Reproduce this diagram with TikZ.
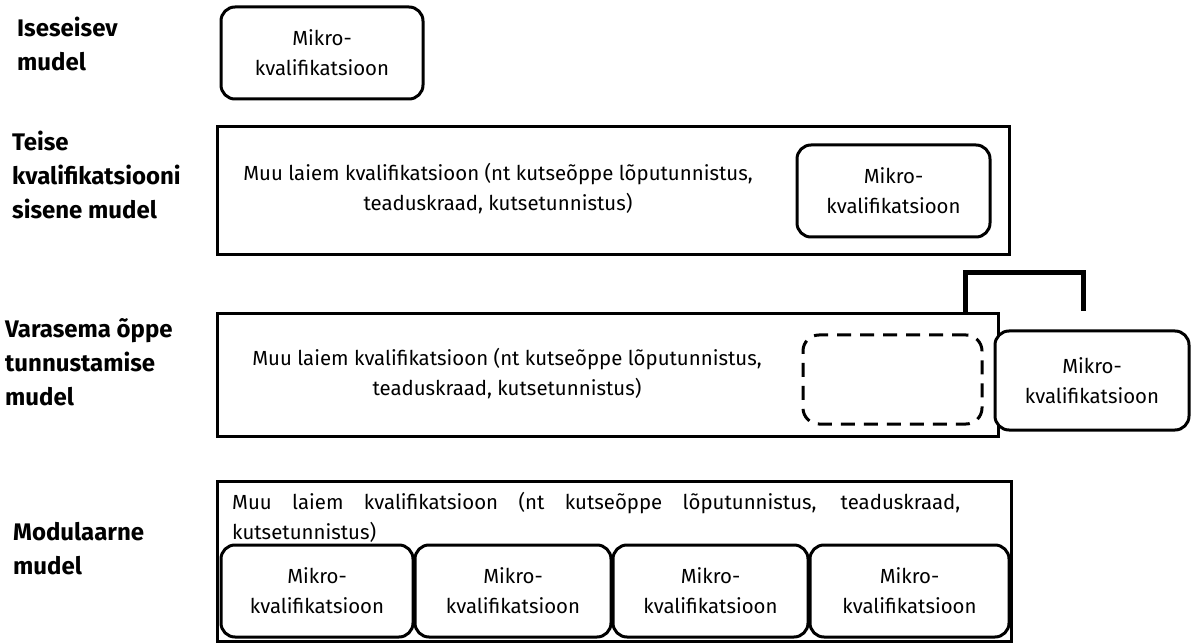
\documentclass[tikz,border=0pt]{standalone}
\usepackage{fontspec}
\setmainfont{Fira Sans}
\newcommand\bodyf{\fontsize{20.4}{30}\selectfont}
\newcommand\lblf{\fontsize{24}{34}\selectfont\bfseries}
\hyphenpenalty=10000
\exhyphenpenalty=10000
\tolerance=9999
\begin{document}
\begin{tikzpicture}[x=1pt,y=-1pt,
  mikro/.style={draw, line width=3pt, rounded corners=14pt, align=center, font=\bodyf, inner sep=0pt},
  outer/.style={draw, line width=3pt, inner sep=0pt},
  dashbox/.style={draw, line width=3pt, rounded corners=16pt, dash pattern=on 14pt off 9pt, inner sep=0pt},
  lbl/.style={anchor=west, align=left, font=\lblf, inner sep=0pt},
  body/.style={align=center, font=\bodyf, inner sep=0pt},
  bracket/.style={draw, line width=5pt, line join=miter}]
\useasboundingbox (0,0) rectangle (1192,644);

% labels
\node[lbl] (l1) at (17,44) {Iseseisev\\mudel};
\node[lbl] (l2) at (12,175) {Teise\\kvalifikatsiooni\\sisene mudel};
\node[lbl] (l3) at (5,362) {Varasema õppe\\tunnustamise\\mudel};
\node[lbl] (l4) at (13,549) {Modulaarne\\mudel};

% row 1
\node[mikro, minimum width=202pt, minimum height=92pt] (m1) at (322,53) {Mikro-\\kvalifikatsioon};

% row 2
\node[outer, minimum width=792pt, minimum height=128pt] (big2) at (613,191) {};
\node[body] (t2) at (498,189) {Muu laiem kvalifikatsioon (nt kutseõppe lõputunnistus,\\teaduskraad, kutsetunnistus)};
\node[mikro, minimum width=193pt, minimum height=92pt] (m2) at (893.5,191) {Mikro-\\kvalifikatsioon};

% row 3
\node[outer, minimum width=781pt, minimum height=122pt] (big3) at (607.5,375) {};
\node[body] (t3) at (507,374) {Muu laiem kvalifikatsioon (nt kutseõppe lõputunnistus,\\teaduskraad, kutsetunnistus)};
\node[dashbox, minimum width=179pt, minimum height=89pt] (d3) at (892.5,379.5) {};
\node[mikro, fill=white, minimum width=194pt, minimum height=99pt] (m3) at (1092,380.5) {Mikro-\\kvalifikatsioon};
\coordinate (brL) at (965,273);
\coordinate (brR) at (1083,273);
\coordinate (brE) at (1083,311);
\draw[bracket] (big3.north -| brL) -- (brL) -- (brR) -- (brE);

% row 4
\node[outer, minimum width=794pt, minimum height=160pt] (big4) at (614,561) {};
\node[anchor=north west, text width=728pt, align=justify, font=\bodyf, inner sep=0pt] (t4) at (232,492)
  {Muu laiem kvalifikatsioon (nt kutseõppe lõputunnistus, teaduskraad, kutsetunnistus)};
\node[mikro, minimum width=192pt, minimum height=92pt] (b1) at (317,591) {Mikro-\\kvalifikatsioon};
\node[mikro, minimum width=196pt, minimum height=92pt] (b2) at (513,591) {Mikro-\\kvalifikatsioon};
\node[mikro, minimum width=195pt, minimum height=92pt] (b3) at (710.5,591) {Mikro-\\kvalifikatsioon};
\node[mikro, minimum width=199pt, minimum height=92pt] (b4) at (909.5,591) {Mikro-\\kvalifikatsioon};
\end{tikzpicture}
\end{document}
